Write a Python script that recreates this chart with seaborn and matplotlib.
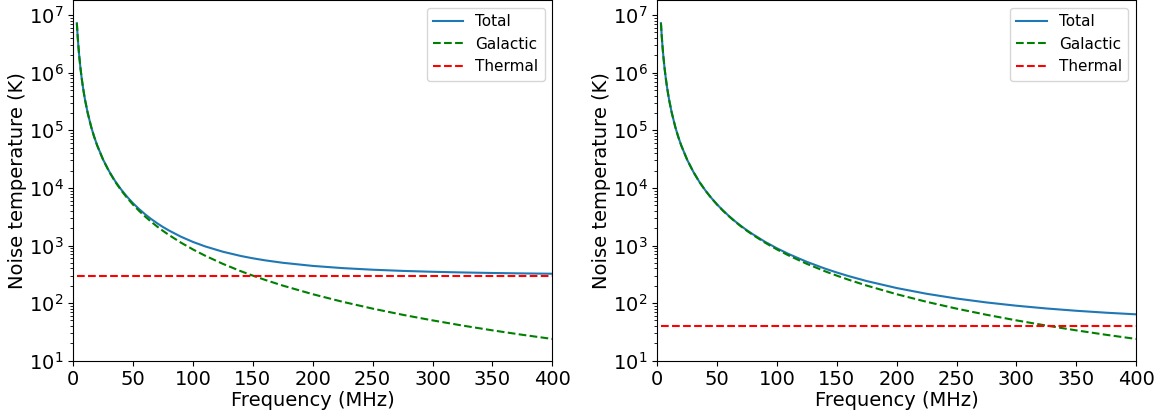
import numpy as np
import pandas as pd
import matplotlib
matplotlib.use("Agg")
import matplotlib.pyplot as plt
import seaborn as sns

# Frequencies (MHz)
freq = [3, 3.5, 4, 4.5, 5, 6, 7, 8, 9, 10, 12, 15, 17.5, 20, 25, 30, 35, 40, 45, 50,
        55, 60, 65, 70, 75, 80, 90, 100, 110, 125, 140, 150, 160, 175, 200, 225,
        250, 275, 300, 325, 350, 375, 400]

# Galactic noise temperature (K), same in both panels
galactic = [7.25e6, 4.87e6, 3.45e6, 2.55e6, 1.94e6, 1.21e6, 8.15e5, 5.77e5, 4.26e5, 3.25e5,
            2.03e5, 1.14e5, 7.66e4, 5.43e4, 3.05e4, 1.91e4, 1.28e4, 9.08e3, 6.70e3, 5.10e3,
            3.99e3, 3.19e3, 2.59e3, 2.14e3, 1.79e3, 1.52e3, 1.12e3, 854, 668, 480, 358, 300,
            254, 201.5, 142.8, 105.4, 80.3, 62.8, 50.2, 40.8, 33.7, 28.2, 23.9]

# Total noise temperature (K)
total_left = [7.25e6, 4.87e6, 3.45e6, 2.55e6, 1.94e6, 1.21e6, 8.15e5, 5.77e5, 4.26e5, 3.25e5,
              2.03e5, 1.14e5, 7.69e4, 5.46e4, 3.08e4, 1.94e4, 1.31e4, 9.38e3, 7.00e3, 5.40e3,
              4.29e3, 3.49e3, 2.89e3, 2.44e3, 2.09e3, 1.82e3, 1.42e3, 1154, 968, 780, 658, 600,
              554, 501.5, 442.8, 405.4, 380.3, 362.8, 350.2, 340.8, 333.7, 328.2, 323.9]
total_right = [7.25e6, 4.87e6, 3.45e6, 2.55e6, 1.94e6, 1.21e6, 8.15e5, 5.77e5, 4.26e5, 3.25e5,
               2.03e5, 1.14e5, 7.664e4, 5.434e4, 3.054e4, 1.914e4, 1.284e4, 9.12e3, 6.74e3, 5.14e3,
               4.03e3, 3.23e3, 2.63e3, 2.18e3, 1.83e3, 1.56e3, 1.16e3, 894, 708, 520, 398, 340,
               294, 241.5, 182.8, 145.4, 120.3, 102.8, 90.2, 80.8, 73.7, 68.2, 63.9]

# Thermal noise temperature (K)
thermal_left = 300
thermal_right = 40

fig = plt.figure(figsize=(11.61, 4.18), dpi=100)
ax1 = fig.add_axes([0.0631, 0.137, 0.4126, 0.862])
ax2 = fig.add_axes([0.5662, 0.137, 0.4123, 0.862])

for ax, total, thermal in [(ax1, total_left, thermal_left), (ax2, total_right, thermal_right)]:
    df = pd.DataFrame({"freq": freq, "total": total, "galactic": galactic,
                       "thermal": np.full(len(freq), thermal, dtype=float)})
    sns.lineplot(data=df, x="freq", y="total", ax=ax, color="#1f77b4", lw=1.5, label="Total")
    sns.lineplot(data=df, x="freq", y="galactic", ax=ax, color="green", lw=1.5,
                 linestyle="--", label="Galactic")
    sns.lineplot(data=df, x="freq", y="thermal", ax=ax, color="red", lw=1.5,
                 linestyle="--", label="Thermal")
    ax.set_yscale("log")
    ax.set_xlim(0, 400)
    ax.set_ylim(10, 1.8e7)
    ax.set_xlabel("Frequency (MHz)", fontsize=14, labelpad=1)
    ax.set_ylabel("Noise temperature (K)", fontsize=14, labelpad=1)
    ax.tick_params(axis="both", which="major", labelsize=14)
    ax.legend(loc="upper right", fontsize=11)

fig.savefig("out.png", dpi=100)
